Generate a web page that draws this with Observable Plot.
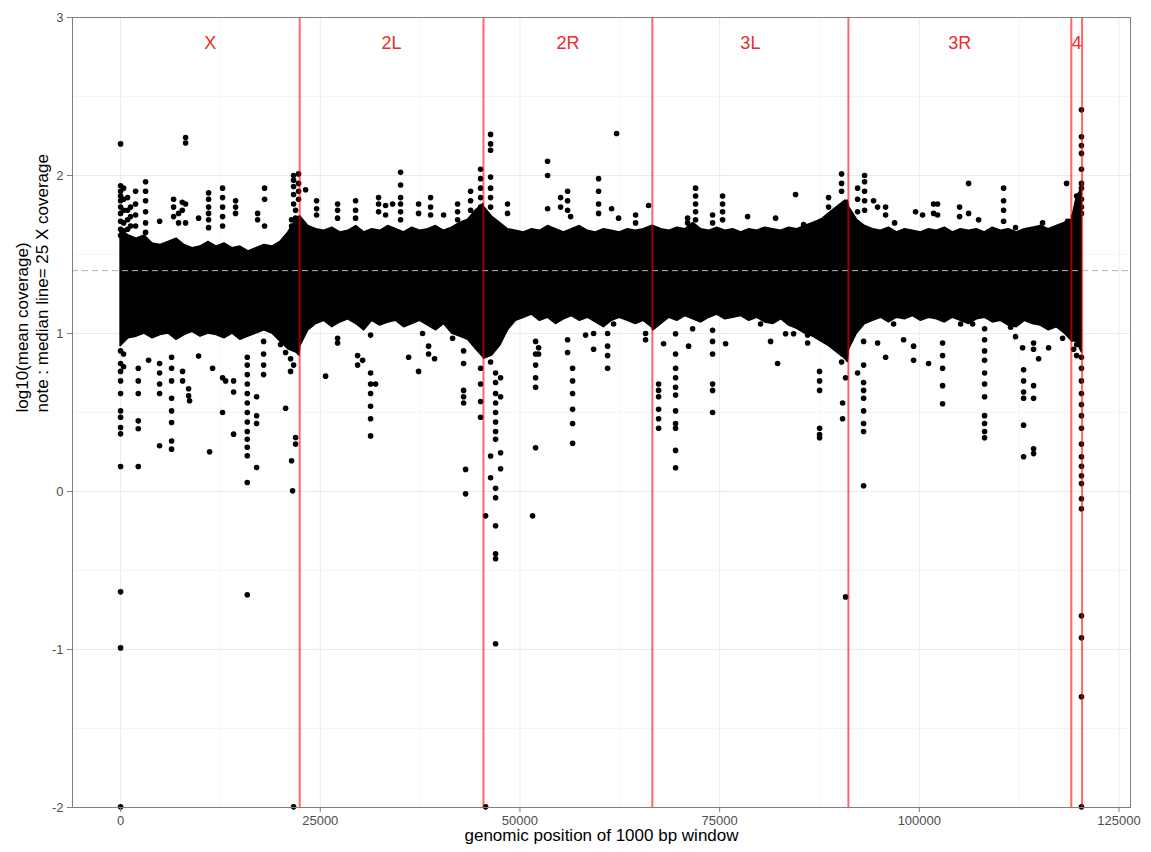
<!DOCTYPE html>
<html>
<head>
<meta charset="utf-8">
<script src="https://cdn.jsdelivr.net/npm/d3@7"></script>
<script src="https://cdn.jsdelivr.net/npm/@observablehq/plot@0.6"></script>
<style>
  html, body { margin: 0; padding: 0; background: #ffffff; }
  #chart { width: 1151px; height: 852px; }
</style>
</head>
<body>
<div id="chart"></div>
<script>
// ---- chromosome arms (cumulative end, in 1000 bp windows) ----
const chromNames = ["X", "2L", "2R", "3L", "3R", "4"];
const chromEnds  = [22422, 45433, 66579, 91122, 119027, 120378];
const chromStarts = [0, 22422, 45433, 66579, 91122, 119027];
const medianCoverage = 25;           // median line = 25 X coverage
const labelY = 2.84;

// ---- axis ticks ----
const xTicks = [0, 25000, 50000, 75000, 100000, 125000];
const xMinor = [12500, 37500, 62500, 87500, 112500];
const yTicks = [-2, -1, 0, 1, 2, 3];
const yMinor = [-1.5, -0.5, 0.5, 1.5, 2.5];

// ---- dense core of the point cloud (window position, lower / upper log10 coverage) ----
const bandPos = [
  0, 1000, 2000, 3000, 4000, 5000, 6000, 7000, 8000, 9000, 10000, 11000, 12000, 13000, 14000, 15000, 16000, 17000, 18000, 19000, 20000, 21000, 22000, 22400,
  22500, 23500, 24500, 25500, 26500, 27500, 28500, 29500, 30500, 31500, 32500, 33500, 34500, 35500, 36500, 37500, 38500, 39500, 40500, 41500, 42500, 43500, 44500, 45400,
  45500, 46500, 47500, 48500, 49500, 50500, 51500, 52500, 53500, 54500, 55500, 56500, 57500, 58500, 59500, 60500, 61500, 62500, 63500, 64500, 65500, 66500,
  66700, 67700, 68700, 69700, 70700, 71700, 72700, 73700, 74700, 75700, 76700, 77700, 78700, 79700, 80700, 81700, 82700, 83700, 84700, 85700, 86700, 87700, 88700, 89700, 90700, 91050,
  91200, 92200, 93200, 94200, 95200, 96200, 97200, 98200, 99200, 100200, 101200, 102200, 103200, 104200, 105200, 106200, 107200, 108200, 109200, 110200, 111200, 112200, 113200, 114200, 115200, 116200, 117200, 118200, 118950,
  119100, 119700, 120350];
const bandHi = [
  1.66, 1.62, 1.60, 1.62, 1.57, 1.56, 1.58, 1.60, 1.56, 1.54, 1.55, 1.58, 1.55, 1.57, 1.54, 1.55, 1.52, 1.54, 1.56, 1.55, 1.58, 1.64, 1.72, 1.74,
  1.74, 1.68, 1.66, 1.65, 1.67, 1.64, 1.65, 1.68, 1.64, 1.66, 1.65, 1.68, 1.66, 1.64, 1.67, 1.65, 1.66, 1.68, 1.65, 1.67, 1.70, 1.72, 1.78, 1.82,
  1.80, 1.74, 1.70, 1.66, 1.65, 1.64, 1.66, 1.65, 1.68, 1.66, 1.64, 1.66, 1.68, 1.65, 1.64, 1.66, 1.65, 1.64, 1.66, 1.65, 1.66, 1.68,
  1.68, 1.66, 1.65, 1.67, 1.66, 1.70, 1.66, 1.65, 1.67, 1.65, 1.66, 1.64, 1.66, 1.65, 1.67, 1.66, 1.65, 1.67, 1.66, 1.68, 1.70, 1.72, 1.76, 1.80, 1.84, 1.84,
  1.80, 1.72, 1.68, 1.66, 1.65, 1.67, 1.64, 1.66, 1.65, 1.64, 1.66, 1.65, 1.67, 1.64, 1.66, 1.65, 1.66, 1.64, 1.67, 1.65, 1.66, 1.64, 1.66, 1.67, 1.68, 1.66, 1.68, 1.70, 1.72,
  1.72, 1.86, 1.92];
const bandLo = [
  0.92, 0.97, 0.98, 1.00, 0.97, 0.99, 1.00, 0.96, 0.99, 1.01, 0.98, 1.00, 0.99, 0.97, 1.00, 0.96, 0.98, 1.00, 1.02, 1.00, 0.95, 0.90, 0.88, 0.86,
  0.92, 1.02, 1.06, 1.08, 1.04, 1.07, 1.09, 1.06, 1.02, 1.08, 1.05, 1.07, 1.08, 1.04, 1.06, 1.08, 1.05, 1.02, 1.06, 1.00, 0.98, 0.96, 0.90, 0.85,
  0.84, 0.86, 0.92, 1.02, 1.08, 1.10, 1.12, 1.08, 1.10, 1.06, 1.09, 1.11, 1.08, 1.10, 1.07, 1.04, 1.08, 1.10, 1.08, 1.06, 1.08, 1.04,
  1.02, 1.06, 1.10, 1.08, 1.11, 1.09, 1.07, 1.10, 1.12, 1.09, 1.10, 1.11, 1.08, 1.10, 1.07, 1.06, 1.09, 1.05, 1.03, 1.00, 0.98, 0.95, 0.92, 0.88, 0.84, 0.82,
  0.90, 1.00, 1.06, 1.08, 1.10, 1.07, 1.10, 1.09, 1.11, 1.08, 1.10, 1.09, 1.07, 1.10, 1.08, 1.06, 1.09, 1.10, 1.07, 1.08, 1.05, 1.04, 1.08, 1.06, 1.05, 1.02, 1.04, 1.00, 0.96,
  0.95, 0.95, 0.88];

// ---- scattered windows outside the dense core: [window position, log10(mean coverage)] ----
const ptsX = [
  [0,2.20],[0,1.935],[0,1.90],[0,1.87],[0,1.84],[0,1.80],[0,1.76],[0,1.71],[0,1.66],[0,1.62],
  [376,1.92],[376,1.85],[376,1.78],[376,1.70],[376,1.65],[876,1.86],[876,1.78],[876,1.72],[876,1.66],
  [1252,1.80],[1252,1.74],[1252,1.68],[1878,1.90],[1878,1.82],[1878,1.75],[1878,1.68],
  [3130,1.96],[3130,1.90],[3130,1.84],[3130,1.77],[3130,1.70],[3130,1.64],[4883,1.71],
  [6636,1.85],[6636,1.80],[6636,1.74],[7724,1.83],[7724,1.78],[7262,1.76],[7262,1.70],
  [8138,2.24],[8138,2.205],[8138,1.82],[8138,1.70],[9766,1.73],
  [11018,1.89],[11018,1.85],[11018,1.80],[11018,1.76],[11018,1.72],[11018,1.67],
  [12770,1.92],[12770,1.86],[12770,1.80],[12770,1.74],[12770,1.68],[14398,1.84],[14398,1.80],[14398,1.76],
  [17152,1.76],[17152,1.72],[18029,1.92],[18029,1.85],[18029,1.68],
  [21660,2.00],[21660,1.97],[21660,1.93],[21660,1.88],[21660,1.82],[21910,1.78],[21910,1.73],[21410,1.72],[21410,1.68],
  [22286,2.01],[22286,1.95],[22286,1.90],[22286,1.85],
  [0,0.89],[0,0.81],[0,0.76],[0,0.70],[0,0.62],[0,0.51],[0,0.47],[0,0.405],[0,0.365],[0,0.158],[0,-0.635],[0,-0.99],[0,-1.996],
  [376,0.87],[376,0.79],[2216,0.78],[2216,0.70],[2216,0.62],[2216,0.447],[2216,0.397],[2216,0.158],[3506,0.83],
  [4883,0.81],[4883,0.75],[4883,0.68],[4883,0.62],[4883,0.29],
  [6385,0.85],[6385,0.78],[6385,0.70],[6385,0.59],[6385,0.51],[6385,0.437],[6385,0.32],[6385,0.268],
  [7762,0.76],[7762,0.70],[8514,0.65],[8514,0.606],[8639,0.574],[9766,0.857],
  [11518,0.78],[12770,0.72],[13146,0.70],[11143,0.251],[12770,0.50],[14148,0.70],[14148,0.63],[14148,0.363],
  [15863,0.85],[15863,0.80],[15863,0.74],[15863,0.68],[15863,0.62],[15863,0.56],[15863,0.50],[15863,0.44],[15863,0.38],
  [15863,0.33],[15863,0.28],[15863,0.226],[15863,0.057],[15863,-0.654],
  [17027,0.60],[17027,0.479],[17027,0.43],[17027,0.152],[17904,0.95],[17904,0.87],[17904,0.80],[17904,0.74],
  [20658,0.527],[20032,0.93],[20658,0.88],[21284,0.84],[21660,0.80],[21284,0.76],
  [21910,0.342],[21910,0.30],[21409,0.195],[21534,0.004],[21660,-1.996]
];
const pts2L = [
  [23162,1.91],[24539,1.84],[24539,1.79],[24539,1.75],[27168,1.82],[27168,1.78],[27168,1.73],
  [29422,1.84],[29422,1.78],[29422,1.73],[32302,1.86],[32302,1.82],[32302,1.77],[33178,1.81],[33178,1.75],[34054,1.82],
  [35056,2.02],[35056,1.94],[35056,1.86],[35056,1.82],[35056,1.77],[35056,1.72],[37310,1.82],[37310,1.76],
  [38812,1.86],[38812,1.80],[38812,1.75],[40440,1.75],[42192,1.82],[42192,1.77],[42192,1.72],
  [43820,1.90],[43820,1.84],[43820,1.78],[45072,2.04],[45072,1.98],[45072,1.92],[45072,1.86],[45072,1.80],[45072,1.75],
  [25666,0.73],[27168,0.97],[27168,0.94],[29672,0.86],[30298,0.83],[29672,0.80],
  [31300,0.99],[31300,0.75],[31300,0.68],[31300,0.62],[31300,0.54],[31300,0.46],[31300,0.352],[31926,0.68],
  [36058,0.85],[37310,0.76],[37810,1.00],[38562,0.92],[38562,0.87],[39313,0.84],[41566,0.97],[42568,1.00],
  [42944,0.89],[42944,0.81],[42944,0.64],[42944,0.60],[42944,0.56],[43194,0.14],[43194,-0.015],
  [45072,0.90],[45072,0.78],[45072,0.68],[45072,0.57],[45072,0.47]
];
const pts2R = [
  [46324,2.26],[46324,2.20],[46324,2.16],[46324,1.99],[46324,1.92],[46324,1.86],[46324,1.80],[48452,1.82],[48452,1.76],
  [53460,2.09],[53460,2.00],[53460,1.79],[55088,1.86],[55088,1.80],[55964,1.90],[55964,1.84],[55964,1.78],[56340,1.74],
  [59846,1.98],[59846,1.90],[59846,1.82],[59846,1.76],[61473,1.79],[62099,2.266],[62350,1.73],[64478,1.75],[64478,1.70],[66106,1.81],
  [46324,0.95],[46324,0.88],[46324,0.82],[46950,0.75],[46950,0.69],[46950,0.62],[46950,0.56],[46950,0.50],[46950,0.44],
  [46950,0.38],[46950,0.33],[47576,0.72],[47576,0.60],[46324,0.225],[46324,0.087],[47576,0.245],[47576,0.144],
  [46950,0.02],[46950,-0.04],[45698,-0.154],[46950,-0.217],[46950,-0.394],[46950,-0.426],[46950,-0.964],[45698,-1.996],
  [51958,0.95],[51958,0.87],[51958,0.80],[51958,0.72],[51958,0.66],[51958,0.277],[52334,0.91],[52334,0.87],[51582,-0.154],
  [55964,0.96],[55964,0.88],[56590,0.78],[56590,0.70],[56590,0.62],[56590,0.52],[56590,0.43],[56590,0.305],
  [58218,0.99],[59220,1.00],[59220,0.90],[60972,1.00],[60972,0.92],[60972,0.86],[60972,0.78],[61724,1.06],[65730,1.00],[65730,0.96]
];
const pts3L = [
  [71990,1.92],[71990,1.87],[71990,1.82],[71990,1.77],[71990,1.72],[70990,1.73],[70990,1.70],
  [75370,1.87],[75370,1.82],[75370,1.77],[75370,1.72],[74118,1.75],[74118,1.70],[78500,1.74],[82006,1.73],[84510,1.88],
  [85512,1.69],[87640,1.71],[87640,1.68],[88642,1.86],[88642,1.80],[89518,1.76],[89518,1.72],
  [90269,2.01],[90269,1.95],[90269,1.90],[90770,1.82],[90770,1.76],
  [67358,0.68],[67358,0.64],[67358,0.60],[67358,0.52],[67358,0.46],[67358,0.40],[67984,0.935],
  [69486,0.998],[69486,0.87],[69486,0.78],[69486,0.72],[69486,0.66],[69486,0.61],[69486,0.51],[69486,0.43],[69486,0.40],[69486,0.26],[69486,0.15],
  [71114,0.92],[71614,1.03],[74118,1.02],[74118,0.95],[74118,0.87],[74118,0.68],[74118,0.64],[74118,0.50],[75746,0.935],
  [80128,1.06],[81380,0.95],[82256,0.81],[83258,0.998],[84260,0.998],[86012,0.99],[86012,0.94],
  [87515,0.76],[87515,0.70],[87515,0.64],[87515,0.40],[87515,0.36],[87515,0.34],
  [89768,0.90],[90269,0.82],[90394,0.56],[90394,0.46],[90770,0.72],[90770,-0.667]
];
const pts3R = [
  [92272,1.92],[92272,1.85],[92272,1.77],[93149,2.00],[93149,1.96],[93149,1.90],[93149,1.84],[93149,1.78],
  [94276,1.84],[94776,1.80],[95778,1.80],[95778,1.75],[96905,1.70],[99534,1.77],[100410,1.75],[101788,1.82],[101788,1.76],
  [102288,1.82],[102288,1.75],[105043,1.80],[105043,1.74],[106170,1.95],[106170,1.76],[107422,1.72],[108548,1.64],
  [110552,1.92],[110552,1.84],[110552,1.78],[110552,1.71],[112054,1.67],[115434,1.70],[116686,1.66],[118439,1.95],[118564,1.71],
  [92272,1.05],[93024,0.95],[93024,0.80],[93024,0.69],[93024,0.64],[93024,0.59],[93024,0.51],[93024,0.43],[93024,0.38],
  [93024,0.036],[92272,0.75],[94776,0.94],[95778,0.85],[96780,1.06],[98032,0.96],[99284,0.92],[99284,0.83],[101162,0.81],
  [102914,0.94],[102914,0.86],[102914,0.78],[102914,0.67],[102914,0.555],[105168,1.06],[106670,1.06],
  [108173,1.03],[108173,0.96],[108173,0.89],[108173,0.83],[108173,0.75],[108173,0.68],[108173,0.60],[108173,0.48],
  [108173,0.43],[108173,0.38],[108173,0.34],[111428,1.04],[112054,0.98],[112930,0.91],
  [113055,0.77],[113055,0.70],[113055,0.63],[113055,0.59],[113055,0.42],[113055,0.22],
  [114307,0.94],[114307,0.90],[114307,0.67],[114307,0.59],[114307,0.27],[114307,0.24],[114934,0.84],[116186,0.91],[117938,0.97]
];
const pts4 = [
  [120300,2.416],[120300,2.245],[120300,2.19],[120300,2.14],[120300,2.04],[120300,1.95],[120300,1.92],
  [120300,1.85],[120300,1.80],[120300,1.76],[119691,1.87],[119316,1.74],
  [120300,0.85],[120300,0.78],[120300,0.70],[120300,0.62],[120300,0.55],[120300,0.48],[120300,0.40],[120300,0.30],
  [120300,0.22],[120300,0.16],[120300,0.10],[120300,0.05],[120300,-0.046],[120300,-0.109],
  [120300,-0.787],[120300,-0.926],[120300,-1.299],[120300,-1.996],[119691,0.93],[119691,0.86],[119316,0.90]
];

// ---- build tables from the arrays ----
const band = bandPos.map((p, i) => ({pos: p, lo: bandLo[i], hi: bandHi[i]}));
const points = [...ptsX, ...pts2L, ...pts2R, ...pts3L, ...pts3R, ...pts4].map(([p, v]) => ({pos: p, cov: v}));
const labels = chromNames.map((n, i) => ({name: n, mid: (chromStarts[i] + chromEnds[i]) / 2}));

const chart = Plot.plot({
  width: 1151,
  height: 852,
  marginTop: 17,
  marginRight: 21,
  marginBottom: 45,
  marginLeft: 72,
  x: {domain: [-6020, 126440], label: null},
  y: {domain: [-2, 3], label: null},
  style: {fontFamily: "'Liberation Sans', Arial, sans-serif", background: "#ffffff", overflow: "visible"},
  marks: [
    Plot.gridX(xMinor, {stroke: "#f5f5f5", strokeOpacity: 1}),
    Plot.gridY(yMinor, {stroke: "#f5f5f5", strokeOpacity: 1}),
    Plot.gridX(xTicks, {stroke: "#ebebeb", strokeOpacity: 1}),
    Plot.gridY(yTicks, {stroke: "#ebebeb", strokeOpacity: 1}),
    Plot.areaY(band, {x: "pos", y1: "lo", y2: "hi", fill: "#000000", stroke: "#000000", strokeWidth: 1.5, curve: "linear"}),
    Plot.dot(points, {x: "pos", y: "cov", r: 2.8, fill: "#000000", stroke: "none"}),
    Plot.ruleY([Math.log10(medianCoverage)], {stroke: "#b3b3b3", strokeDasharray: "6,4", strokeWidth: 1}),
    Plot.ruleX(chromEnds, {stroke: "#ff0000", strokeOpacity: 0.6, strokeWidth: 2}),
    Plot.text(labels, {x: "mid", y: () => labelY, text: "name", fill: "#ee2a2a", fontSize: 18}),
    Plot.axisX(xTicks, {tickSize: 5, tickPadding: 3, fontSize: 13, stroke: "#7f7f7f", fill: "#4d4d4d", tickFormat: d => String(d), label: null}),
    Plot.axisY(yTicks, {tickSize: 5, tickPadding: 4, fontSize: 13, stroke: "#7f7f7f", fill: "#4d4d4d", tickFormat: d => String(d), label: null}),
    Plot.frame({stroke: "#7f7f7f"}),
    Plot.text(["genomic position of 1000 bp window"], {frameAnchor: "bottom", dy: 33, fontSize: 17, fill: "#000000"}),
    Plot.text(["log10(mean coverage)\nnote : median line= 25 X coverage"], {frameAnchor: "left", dx: -41, rotate: -90, fontSize: 17, lineHeight: 1.15, lineAnchor: "middle", fill: "#000000"})
  ]
});
document.getElementById("chart").appendChild(chart);
</script>
</body>
</html>
